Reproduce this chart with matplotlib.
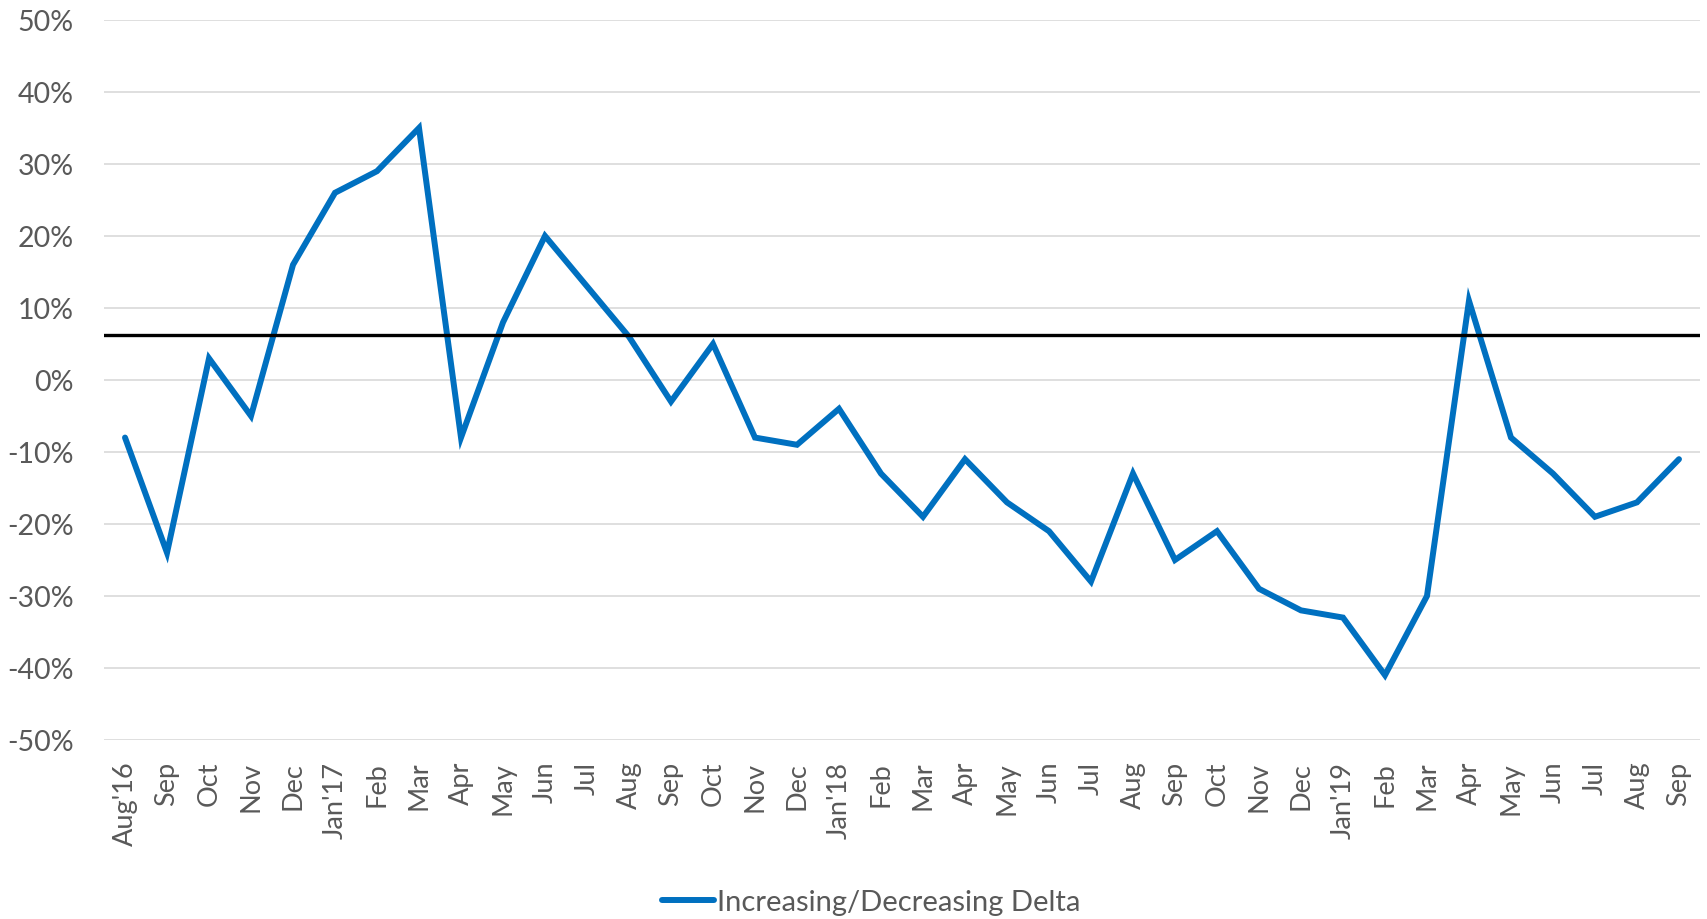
import numpy as np
import matplotlib.pyplot as plt
from matplotlib.ticker import FuncFormatter

months = ["Aug'16", "Sep", "Oct", "Nov", "Dec", "Jan'17", "Feb", "Mar", "Apr",
          "May", "Jun", "Jul", "Aug", "Sep", "Oct", "Nov", "Dec", "Jan'18",
          "Feb", "Mar", "Apr", "May", "Jun", "Jul", "Aug", "Sep", "Oct", "Nov",
          "Dec", "Jan'19", "Feb", "Mar", "Apr", "May", "Jun", "Jul", "Aug", "Sep"]
delta = [-8, -24, 3, -5, 16, 26, 29, 35, -8, 8, 20, 13, 6, -3, 5, -8, -9, -4,
         -13, -19, -11, -17, -21, -28, -13, -25, -21, -29, -32, -33, -41, -30,
         11, -8, -13, -19, -17, -11]
reference_level = 6.25
y_ticks = np.arange(-50, 51, 10)

grey_text = "#595959"
blue = "#0070C0"
plt.rcParams["font.family"] = ["Lato", "DejaVu Sans"]

fig = plt.figure(figsize=(17.08, 9.2), dpi=100)
ax = fig.add_axes([0.0609, 0.1946, 0.9344, 0.7826])

x = np.arange(len(months))
line, = ax.plot(x, delta, color=blue, lw=4.3, solid_joinstyle="miter",
                solid_capstyle="round", label="Increasing/Decreasing Delta", zorder=3)
ax.axhline(reference_level, color="black", lw=2.4, zorder=4)

ax.set_xlim(-0.5, len(months) - 0.5)
ax.set_ylim(-50, 50)
ax.set_yticks(y_ticks)
ax.yaxis.set_major_formatter(FuncFormatter(lambda v, p: f"{v:.0f}%"))
ax.set_xticks(x)
ax.set_xticklabels(months, rotation=90)

ax.grid(axis="y", color="#D9D9D9", lw=1.2)
ax.set_axisbelow(True)
for s in ax.spines.values():
    s.set_visible(False)

ax.tick_params(axis="y", length=0, pad=22, labelsize=20.5, labelcolor=grey_text)
ax.tick_params(axis="x", length=0, pad=15, labelsize=19.5, labelcolor=grey_text)

leg = fig.legend(handles=[line], loc="center", bbox_to_anchor=(871 / 1708, 17 / 920),
                 frameon=False, handlelength=1.8, handletextpad=0.1,
                 prop={"size": 21})
for t in leg.get_texts():
    t.set_color(grey_text)

fig.savefig("out.png", dpi=100)
